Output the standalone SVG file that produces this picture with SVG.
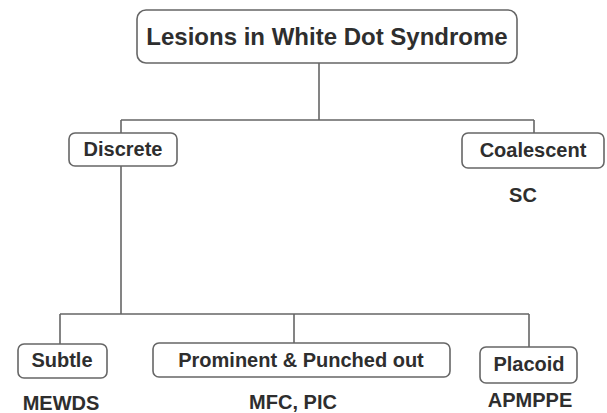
<svg xmlns="http://www.w3.org/2000/svg" width="607" height="413" viewBox="0 0 607 413">
<style>
.box{fill:#fff;stroke:#666;stroke-width:1.6}
.t{font-family:"Liberation Sans",Arial,sans-serif;font-weight:bold;fill:#2e2e2e;text-anchor:middle;font-size:20px}
.c{fill:none;stroke:#666;stroke-width:1.6}
</style>
<rect width="607" height="413" fill="#fff"/>
<g id="connectors">
<path class="c" d="M319,63 V120 M121,120 H534 M121,120 V133 M534,120 V133"/>
<path class="c" d="M121,166 V314 M60,314 H529 M60,314 V344 M294,314 V343 M529,314 V347"/>
</g>
<g id="root">
<rect class="box" x="137" y="10" width="380" height="53" rx="9"/>
<text class="t" x="327" y="45" style="font-size:24px">Lesions in White Dot Syndrome</text>
</g>
<g id="discrete">
<rect class="box" x="69" y="133" width="108" height="33" rx="6"/>
<text class="t" x="123" y="156">Discrete</text>
</g>
<g id="coalescent">
<rect class="box" x="462" y="133" width="142" height="35" rx="6"/>
<text class="t" x="533" y="157">Coalescent</text>
<text class="t" x="523" y="202">SC</text>
</g>
<g id="subtle">
<rect class="box" x="18" y="344" width="89" height="34" rx="6"/>
<text class="t" x="62" y="367">Subtle</text>
<text class="t" x="61" y="410">MEWDS</text>
</g>
<g id="prominent">
<rect class="box" x="153" y="343" width="297" height="34" rx="6"/>
<text class="t" x="301" y="367">Prominent &amp; Punched out</text>
<text class="t" x="293" y="409">MFC, PIC</text>
</g>
<g id="placoid">
<rect class="box" x="480" y="347" width="97" height="36" rx="6"/>
<text class="t" x="529" y="371">Placoid</text>
<text class="t" x="530" y="407">APMPPE</text>
</g>
</svg>
